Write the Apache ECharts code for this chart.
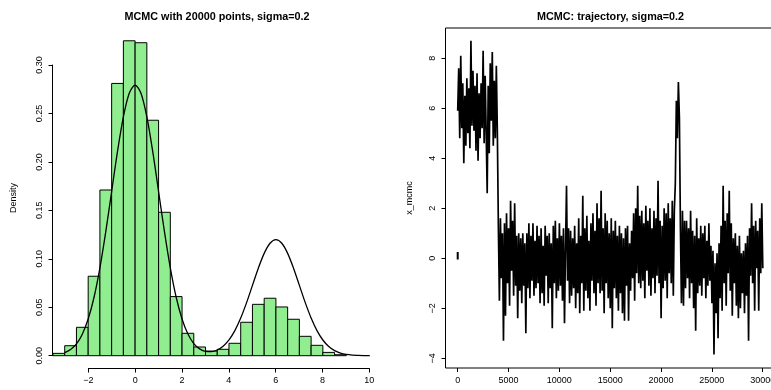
<!DOCTYPE html>
<html>
<head>
<meta charset="utf-8">
<script src="https://cdn.jsdelivr.net/npm/echarts@6/dist/echarts.min.js"></script>
<style>
html,body{margin:0;padding:0;background:#fff;}
#chart{width:771px;height:390px;}
</style>
</head>
<body>
<div id="chart"></div>
<script>
// ---------- data ----------
const histBreaks = [-3.5,-3.0,-2.5,-2.0,-1.5,-1.0,-0.5,0.0,0.5,1.0,1.5,2.0,2.5,3.0,3.5,4.0,4.5,5.0,5.5,6.0,6.5,7.0,7.5,8.0,8.5,9.0];
const histDensity = [0.0024,0.0103,0.0293,0.082,0.171,0.281,0.325,0.323,0.243,0.148,0.061,0.0231,0.009,0.0048,0.0066,0.0128,0.0345,0.053,0.0593,0.0503,0.0376,0.020,0.0107,0.0034,0.001];

const curveX = [-3,-2.75,-2.5,-2.25,-2,-1.75,-1.5,-1.25,-1,-0.75,-0.5,-0.25,0,0.25,0.5,0.75,1,1.25,1.5,1.75,2,2.25,2.5,2.75,3,3.25,3.5,3.75,4,4.25,4.5,4.75,5,5.25,5.5,5.75,6,6.25,6.5,6.75,7,7.25,7.5,7.75,8,8.25,8.5,8.75,9,9.25,9.5,9.75,10];
const curveY = [0.0031,0.0064,0.0122,0.0222,0.0378,0.0603,0.0907,0.1280,0.1694,0.2108,0.2464,0.2708,0.2793,0.2708,0.2464,0.2108,0.1694,0.1280,0.0907,0.0603,0.0379,0.0223,0.0125,0.0070,0.0044,0.0042,0.0059,0.0098,0.0163,0.0259,0.0389,0.0548,0.0726,0.0903,0.1056,0.1160,0.1197,0.1160,0.1056,0.0903,0.0726,0.0548,0.0389,0.0259,0.0162,0.0095,0.0053,0.0027,0.0013,0.0006,0.0003,0.0001,0.00004];

const traceStep = 100;
const traceValues = [
5.9,7.6,4.8,8.1,5.2,7.0,3.8,6.5,4.5,7.2,
5.0,6.8,4.4,8.7,5.3,7.5,5.1,6.9,4.3,7.4,
3.9,6.6,4.8,7.0,5.2,8.3,4.6,7.3,5.0,2.6,
6.9,4.2,7.8,5.5,8.25,4.5,7.1,4.8,7.7,5.0,
1.2,-1.7,1.6,-0.8,1.0,-3.3,1.4,-2.3,1.8,-1.0,
1.2,-1.9,2.3,-0.5,1.5,-1.5,2.2,-1.1,0.9,-2.4,
1.0,-1.3,0.8,-1.8,1.0,-1.1,0.6,-3.0,1.0,-1.2,
1.4,-1.6,0.9,-0.9,1.4,-1.5,0.7,-1.2,1.3,-1.0,
0.9,-1.8,1.2,-1.4,0.5,-1.9,1.3,-0.7,0.9,-1.8,
1.0,-1.2,0.6,-2.8,1.3,-1.0,1.5,-1.6,0.8,-1.3,
1.4,-1.1,0.9,-1.7,1.2,-2.6,0.4,2.9,-0.9,1.2,
-1.8,1.1,-1.5,0.8,-1.2,1.3,-2.0,0.6,-1.4,1.6,
-2.2,0.9,-1.0,2.5,-2.1,1.2,-1.3,1.7,-1.6,0.7,
-2.1,1.4,-0.9,1.8,-1.4,1.1,-1.9,2.2,-1.0,1.6,
-1.4,2.7,-1.3,1.2,-2.2,1.8,-1.0,1.5,-1.6,1.0,
-2.0,1.6,-2.8,1.1,-1.2,1.5,-1.6,0.9,-2.1,1.3,
-1.4,1.0,-2.2,0.8,-2.5,1.2,-1.1,1.3,-2.5,0.6,
-1.3,1.1,-0.8,1.8,-1.7,2.0,-0.6,2.9,-1.0,1.7,
-1.2,1.9,-0.9,1.4,-1.6,2.1,-0.5,1.5,-1.1,2.0,
-1.5,1.2,-0.8,1.9,-1.4,1.6,-0.7,3.1,-1.0,1.5,
-2.4,1.3,-1.2,2.0,-0.9,1.8,-1.6,2.2,-0.6,1.6,
-1.0,2.3,-1.5,1.9,3.0,6.3,4.8,7.05,5.6,1.2,
-1.8,1.9,-1.9,1.5,-1.2,1.5,-0.8,1.2,-1.6,1.9,
-1.0,1.1,-2.0,0.9,-2.9,1.6,-1.4,0.8,-1.1,1.3,
-1.5,1.0,-0.8,1.3,-1.6,0.7,-1.1,1.4,-0.9,0.5,
-1.8,0.3,-3.85,-0.2,-2.2,0.2,-3.2,0.6,-1.6,1.3,
-2.1,2.9,-1.0,1.5,-1.9,1.8,-0.6,2.7,-1.3,1.4,
-2.3,0.8,-1.0,1.0,-1.9,0.5,-2.4,0.9,-2.0,0.2,
-1.4,0.3,-2.2,0.6,-1.5,0.9,-3.3,1.2,-0.7,2.2,
-1.0,1.3,-2.1,1.5,-0.4,1.1,-2.1,1.6,-0.6,2.2,
-0.4
];
const startSegmentValues = [0.25, -0.05];

const leftTitle = 'MCMC with 20000 points, sigma=0.2';
const rightTitle = 'MCMC: trajectory, sigma=0.2';
const leftYName = 'Density';
const rightYName = 'x_mcmc';

// ---------- chart ----------
const FONT = 'Liberation Sans, Arial, Helvetica, sans-serif';
const chart = echarts.init(document.getElementById('chart'), null, {renderer: 'canvas'});

const histData = histDensity.map((d, i) => [histBreaks[i], histBreaks[i + 1], d]);
const curveData = curveX.map((x, i) => [x, curveY[i]]);
const traceData = traceValues.map((v, i) => [i * traceStep, v]);
const startSegData = startSegmentValues.map(v => [0, v]);

const minus = s => String(s).replace('-', '\u2212');
const hidden = {show: false};
const axisLabelStyle = {color: '#000', fontSize: 9, fontFamily: FONT};

const option = {
  animation: false,
  backgroundColor: '#fff',
  grid: [
    {left: 52.5, top: 28, width: 329.5, height: 340, show: false, outerBoundsMode: 'none', containLabel: false},
    {left: 88.36, top: 65, width: 281, height: 290.7, show: false, outerBoundsMode: 'none', containLabel: false},
    {left: 445.5, top: 28, width: 329.5, height: 340, show: true, borderColor: '#000', borderWidth: 1, backgroundColor: 'transparent', outerBoundsMode: 'none', containLabel: false},
    {left: 457.7, top: 58.3, width: 305, height: 300, show: false, outerBoundsMode: 'none', containLabel: false}
  ],
  xAxis: [
    {gridIndex: 0, type: 'value', min: -3.52, max: 10.52, show: false},
    {gridIndex: 1, type: 'value', min: -2, max: 10, interval: 2, position: 'bottom', offset: 12.8,
      axisLine: {show: true, onZero: false, lineStyle: {color: '#000', width: 1}},
      axisTick: {show: true, inside: false, length: 4, lineStyle: {color: '#000'}},
      axisLabel: Object.assign({margin: 8, hideOverlap: false, formatter: v => minus(v)}, axisLabelStyle), splitLine: hidden},
    {gridIndex: 2, type: 'value', min: -1200, max: 31200, show: false},
    {gridIndex: 3, type: 'value', min: 0, max: 30000, interval: 5000, position: 'bottom', offset: 9.7,
      axisLine: {show: false, onZero: false},
      axisTick: {show: true, inside: false, length: 4, lineStyle: {color: '#000'}},
      axisLabel: Object.assign({margin: 8, hideOverlap: false, formatter: v => String(v)}, axisLabelStyle), splitLine: hidden}
  ],
  yAxis: [
    {gridIndex: 0, type: 'value', min: -0.0127, max: 0.3382, show: false},
    {gridIndex: 1, type: 'value', min: 0, max: 0.3, interval: 0.05, position: 'left', offset: 35.86,
      axisLine: {show: true, onZero: false, lineStyle: {color: '#000', width: 1}},
      axisTick: {show: true, inside: false, length: 4, lineStyle: {color: '#000'}},
      axisLabel: Object.assign({margin: 8, rotate: 90, formatter: v => v.toFixed(2)}, axisLabelStyle), splitLine: hidden},
    {gridIndex: 2, type: 'value', min: -4.39, max: 9.21, show: false},
    {gridIndex: 3, type: 'value', min: -4, max: 8, interval: 2, position: 'left', offset: 12.2,
      axisLine: {show: false, onZero: false},
      axisTick: {show: true, inside: false, length: 4, lineStyle: {color: '#000'}},
      axisLabel: Object.assign({margin: 8, rotate: 90, formatter: v => minus(v)}, axisLabelStyle), splitLine: hidden}
  ],
  series: [
    {
      type: 'custom', xAxisIndex: 0, yAxisIndex: 0, silent: true,
      data: histData,
      encode: {x: [0, 1], y: 2},
      renderItem: function (params, api) {
        const p0 = api.coord([api.value(0), api.value(2)]);
        const p1 = api.coord([api.value(1), 0]);
        return {
          type: 'rect',
          shape: {x: p0[0], y: p0[1], width: p1[0] - p0[0], height: p1[1] - p0[1]},
          style: {fill: '#90EE90', stroke: '#000', lineWidth: 1}
        };
      }
    },
    {
      type: 'line', xAxisIndex: 0, yAxisIndex: 0, silent: true,
      data: curveData, showSymbol: false, smooth: 0.3,
      lineStyle: {color: '#000', width: 1.3}
    },
    {
      type: 'line', xAxisIndex: 2, yAxisIndex: 2, silent: true,
      data: traceData, showSymbol: false, sampling: null,
      lineStyle: {color: '#000', width: 1.7}
    },
    {
      type: 'line', xAxisIndex: 2, yAxisIndex: 2, silent: true,
      data: startSegData, showSymbol: false,
      lineStyle: {color: '#000', width: 2}
    }
  ],
  graphic: [
    {type: 'text', x: 217, y: 17, silent: true,
      style: {text: leftTitle, font: 'bold 10.8px ' + FONT, fill: '#000', textAlign: 'center', textVerticalAlign: 'middle', align: 'center', verticalAlign: 'middle'}},
    {type: 'text', x: 610.5, y: 17, silent: true,
      style: {text: rightTitle, font: 'bold 10.8px ' + FONT, fill: '#000', textAlign: 'center', textVerticalAlign: 'middle', align: 'center', verticalAlign: 'middle'}},
    {type: 'text', x: 14, y: 198, rotation: Math.PI / 2, silent: true,
      style: {text: leftYName, font: '9px ' + FONT, fill: '#000', textAlign: 'center', textVerticalAlign: 'middle', align: 'center', verticalAlign: 'middle'}},
    {type: 'text', x: 410, y: 198, rotation: Math.PI / 2, silent: true,
      style: {text: rightYName, font: '9px ' + FONT, fill: '#000', textAlign: 'center', textVerticalAlign: 'middle', align: 'center', verticalAlign: 'middle'}}
  ]
};
chart.setOption(option);
</script>
</body>
</html>
